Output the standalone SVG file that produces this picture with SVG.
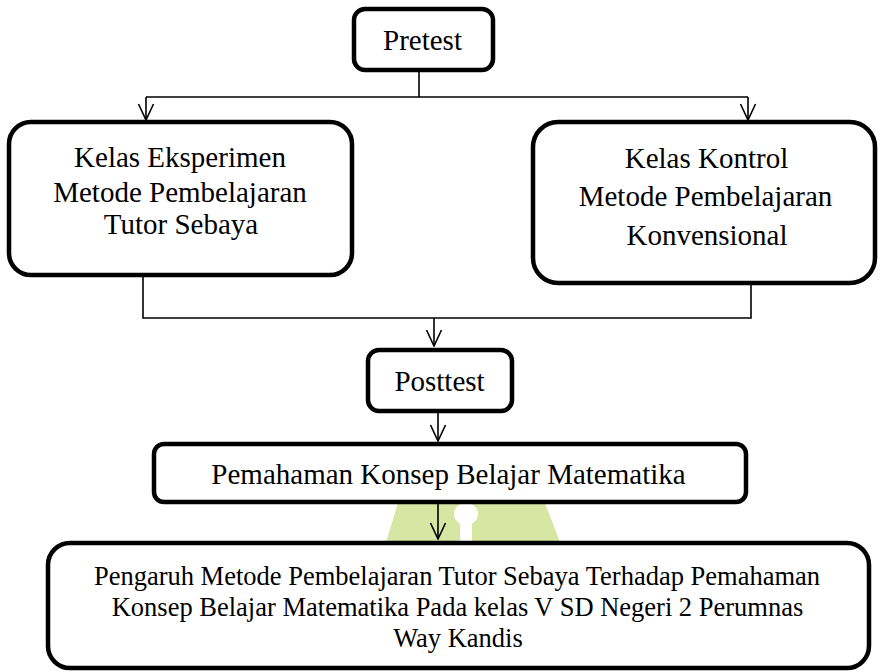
<svg xmlns="http://www.w3.org/2000/svg" width="880" height="672" viewBox="0 0 880 672">
  <defs>
    <style>
      .box { fill: #ffffff; stroke: #000000; stroke-width: 4.5; }
      .lbl { font-family: "Liberation Serif", serif; font-size: 29px; fill: #000000; text-anchor: middle; }
      .sm { font-size: 26.5px; }
      .con { fill: none; stroke: #000000; stroke-width: 1.6; }
    </style>
    <marker id="arr" viewBox="0 0 18 18" markerWidth="18" markerHeight="18" refX="17" refY="9" orient="auto" markerUnits="userSpaceOnUse">
      <path d="M1,1.5 L17,9 L1,16.5" fill="none" stroke="#000000" stroke-width="1.6"/>
    </marker>
  </defs>
  <rect x="0" y="0" width="880" height="672" fill="#ffffff"/>

  <g id="watermark">
    <path d="M398,503 L545,503 L560,542 L386,542 Z" fill="#d7e6a3"/>
    <ellipse cx="466" cy="514" rx="12" ry="11" fill="#ffffff"/>
    <rect x="460" y="519" width="12" height="23" fill="#ffffff"/>
  </g>

  <g id="connectors">
    <path class="con" d="M419,72 V97 M146,97 H748"/>
    <path class="con" d="M146,97 V120" marker-end="url(#arr)"/>
    <path class="con" d="M748,97 V120" marker-end="url(#arr)"/>
    <path class="con" d="M143,275 V318 H751 V283"/>
    <path class="con" d="M434,318 V346" marker-end="url(#arr)"/>
    <path class="con" d="M438,412 V441" marker-end="url(#arr)"/>
    <path class="con" d="M438,502 V539" marker-end="url(#arr)"/>
  </g>

  <g id="pretest">
    <rect class="box" x="354" y="9" width="139" height="61" rx="11"/>
    <text class="lbl" x="422.5" y="50">Pretest</text>
  </g>

  <g id="kelas-eksperimen">
    <rect class="box" x="9" y="122" width="343" height="153" rx="22"/>
    <text class="lbl" x="180" y="167">Kelas Eksperimen</text>
    <text class="lbl" x="180" y="202">Metode Pembelajaran</text>
    <text class="lbl" x="181" y="234">Tutor Sebaya</text>
  </g>

  <g id="kelas-kontrol">
    <rect class="box" x="533" y="122" width="342" height="161" rx="25"/>
    <text class="lbl" x="706.5" y="168">Kelas Kontrol</text>
    <text class="lbl" x="705.5" y="206">Metode Pembelajaran</text>
    <text class="lbl" x="707" y="245">Konvensional</text>
  </g>

  <g id="posttest">
    <rect class="box" x="368" y="350" width="144" height="61" rx="11"/>
    <text class="lbl" x="439.5" y="391">Posttest</text>
  </g>

  <g id="pemahaman">
    <rect class="box" x="154" y="444" width="592" height="58" rx="10"/>
    <text class="lbl" x="448.5" y="484">Pemahaman Konsep Belajar Matematika</text>
  </g>

  <g id="pengaruh">
    <rect class="box" x="48" y="543" width="821" height="125" rx="22"/>
    <text class="lbl sm" x="457" y="585">Pengaruh Metode Pembelajaran Tutor Sebaya Terhadap Pemahaman</text>
    <text class="lbl sm" x="457.5" y="616">Konsep Belajar Matematika Pada kelas V SD Negeri 2 Perumnas</text>
    <text class="lbl sm" x="458" y="647">Way Kandis</text>
  </g>
</svg>
